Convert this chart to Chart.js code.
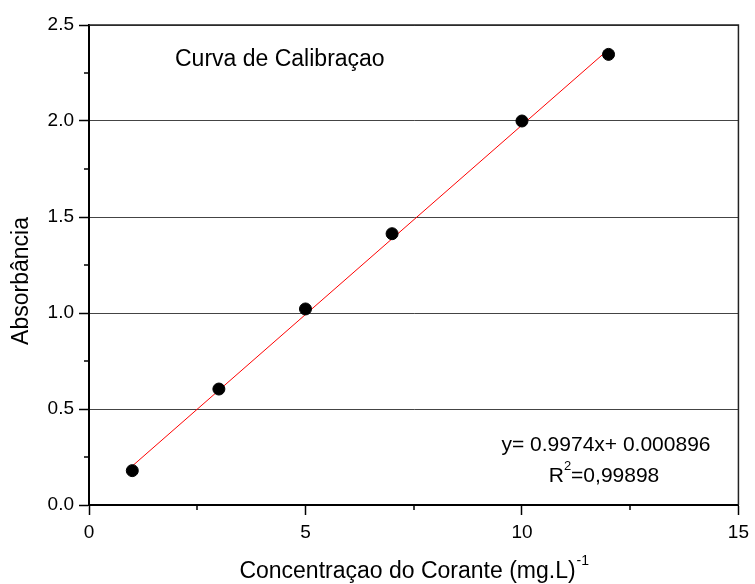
<!DOCTYPE html>
<html>
<head>
<meta charset="utf-8">
<script src="https://cdn.jsdelivr.net/npm/chart.js@4.4.0/dist/chart.umd.min.js"></script>
<style>
  html, body { margin: 0; padding: 0; background: #fff; }
  #wrap { width: 755px; height: 584px; }
</style>
</head>
<body>
<div id="wrap"><canvas id="calib" width="755" height="584"></canvas></div>
<script>
// dados
var concentracao = [1, 3, 5, 7, 10, 12];
var absorbancia = [0.179, 0.604, 1.021, 1.413, 2.0, 2.347];
// reta ajustada (extremos)
var ajusteX = [1, 12];
var ajusteY = [0.203, 2.373];
var xTicks = [0, 5, 10, 15];
var yTicks = [0, 0.5, 1.0, 1.5, 2.0, 2.5];
var xMinor = [2.5, 7.5, 12.5];
var yMinor = [0.25, 0.75, 1.25, 1.75, 2.25];

var FONT = '"Liberation Sans", Arial, sans-serif';

var extras = {
    id: 'extras',
    afterDraw: function (chart) {
        var ctx = chart.ctx;
        var xs = chart.scales.x, ys = chart.scales.y;
        var a = chart.chartArea;
        ctx.save();

        // moldura (topo e direita)
        ctx.strokeStyle = '#222';
        ctx.lineWidth = 1.5;
        ctx.beginPath();
        ctx.moveTo(a.left, a.top);
        ctx.lineTo(a.right, a.top);
        ctx.lineTo(a.right, a.bottom);
        ctx.stroke();

        // ticks menores
        ctx.strokeStyle = '#000';
        ctx.lineWidth = 1.5;
        ctx.beginPath();
        xMinor.forEach(function (v) {
            var px = Math.round(xs.getPixelForValue(v));
            ctx.moveTo(px, a.bottom);
            ctx.lineTo(px, a.bottom + 5);
        });
        yMinor.forEach(function (v) {
            var py = Math.round(ys.getPixelForValue(v));
            ctx.moveTo(a.left - 5, py);
            ctx.lineTo(a.left, py);
        });
        ctx.stroke();

        ctx.fillStyle = '#000';

        // titulo interno
        ctx.font = '23px ' + FONT;
        ctx.textAlign = 'left';
        ctx.textBaseline = 'middle';
        ctx.fillText('Curva de Calibraçao', 175, 60);

        // equacao
        ctx.font = '21px ' + FONT;
        ctx.textAlign = 'center';
        ctx.fillText('y= 0.9974x+ 0.000896', 606, 445);
        var r1 = 'R', r2 = '=0,99898';
        var w1 = ctx.measureText(r1).width, w2 = ctx.measureText(r2).width;
        ctx.font = '13px ' + FONT;
        var ws = ctx.measureText('2').width;
        var x0 = 604 - (w1 + ws + w2) / 2;
        ctx.textAlign = 'left';
        ctx.font = '21px ' + FONT;
        ctx.fillText(r1, x0, 476);
        ctx.fillText(r2, x0 + w1 + ws, 476);
        ctx.font = '13px ' + FONT;
        ctx.fillText('2', x0 + w1, 466);

        // titulo eixo x
        ctx.font = '23px ' + FONT;
        ctx.textBaseline = 'alphabetic';
        var t = 'Concentraçao do Corante (mg.L)';
        var tw = ctx.measureText(t).width;
        ctx.font = '14px ' + FONT;
        var sw = ctx.measureText('-1').width;
        var tx = (a.left + a.right) / 2 - (tw + sw) / 2;
        ctx.font = '23px ' + FONT;
        ctx.fillText(t, tx, 578);
        ctx.font = '14px ' + FONT;
        ctx.fillText('-1', tx + tw + 1, 565);

        // titulo eixo y
        ctx.translate(22, 281);
        ctx.rotate(-Math.PI / 2);
        ctx.font = '23px ' + FONT;
        ctx.textAlign = 'center';
        ctx.textBaseline = 'middle';
        ctx.fillText('Absorbância', 0, 0);

        ctx.restore();
    }
};

new Chart(document.getElementById('calib'), {
    type: 'scatter',
    data: {
        datasets: [
            {
                label: 'Ajuste',
                data: ajusteX.map(function (x, i) { return { x: x, y: ajusteY[i] }; }),
                showLine: true,
                borderColor: '#ff0000',
                borderWidth: 1,
                pointRadius: 0,
                order: 2
            },
            {
                label: 'Pontos',
                data: concentracao.map(function (x, i) { return { x: x, y: absorbancia[i] }; }),
                backgroundColor: '#000',
                borderColor: '#000',
                pointRadius: 6,
                order: 1
            }
        ]
    },
    options: {
        responsive: false,
        animation: false,
        layout: { padding: { top: 25, right: 13, left: 0, bottom: 0 } },
        plugins: {
            legend: { display: false },
            tooltip: { enabled: false }
        },
        scales: {
            x: {
                type: 'linear',
                min: 0,
                max: 15,
                afterBuildTicks: function (s) { s.ticks = xTicks.map(function (v) { return { value: v }; }); },
                afterFit: function (s) { s.height = 79; },
                ticks: {
                    color: '#000',
                    font: { family: FONT, size: 19 },
                    padding: 6,
                    maxRotation: 0,
                    callback: function (v) { return v; }
                },
                grid: {
                    drawOnChartArea: false,
                    tickLength: 10,
                    tickColor: '#000',
                    tickWidth: 1.5
                },
                border: { color: '#000', width: 2 }
            },
            y: {
                type: 'linear',
                min: 0,
                max: 2.5,
                afterBuildTicks: function (s) { s.ticks = yTicks.map(function (v) { return { value: v }; }); },
                afterFit: function (s) { s.width = 89; },
                ticks: {
                    color: '#000',
                    font: { family: FONT, size: 19 },
                    padding: 5,
                    callback: function (v) { return Number(v).toFixed(1); }
                },
                grid: {
                    color: '#444',
                    lineWidth: 1,
                    tickLength: 10,
                    tickColor: '#000',
                    tickWidth: 1.5
                },
                border: { color: '#000', width: 2 }
            }
        }
    },
    plugins: [extras]
});
</script>
</body>
</html>
